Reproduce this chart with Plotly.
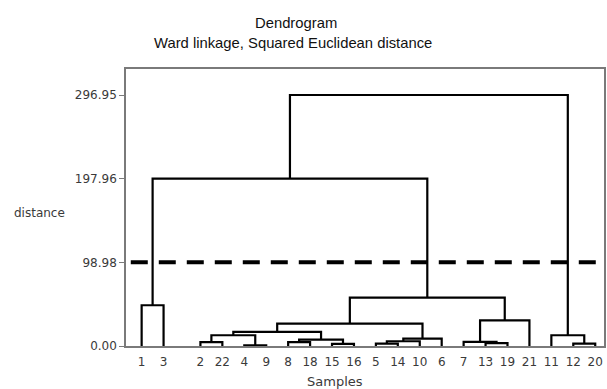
import plotly.graph_objects as go

# Leaf order along the horizontal axis (sample numbers)
sample_order = [1, 3, 2, 22, 4, 9, 8, 18, 15, 16, 5, 14, 10, 6, 7, 13, 19, 21, 11, 12, 20]

# Agglomeration steps (Ward). Children are sample numbers or earlier steps "c<k>".
merge_left = [4, 15, 5, 12, 13, 2, 8, 7, "c3", "c7", "c9", "c6", 11, "c12", "c14",
              "c8", 1, "c15", "c17", "c19"]
merge_right = [9, 16, 14, 20, 19, 22, 18, "c5", 10, "c2", 6, "c1", "c4", "c10", "c11",
               21, 3, "c16", "c18", "c13"]
merge_height = [0.8, 2.5, 2.8, 2.8, 3.5, 4.7, 4.7, 4.9, 5.6, 7.6, 8.8, 12.7, 12.7,
                16.6, 26.5, 30.4, 48.2, 57.3, 198.1, 296.95]

# Distance axis ticks and the cut level
distance_ticks = [0.00, 98.98, 197.96, 296.95]
cut_distance = 98.98

# Layout constants
first_pair_gap = 0.68      # extra spacing after the first two leaves
line_color = "black"
frame_color = "#7a7a7a"
text_color = "#3a3a3a"

# Leaf positions
pos = {}
height = {}
for i, s in enumerate(sample_order):
    pos[s] = i + (first_pair_gap if i >= 2 else 0)
    height[s] = 0.0

# Build the U-shaped links
xs, ys = [], []
for k, (a, b, h) in enumerate(zip(merge_left, merge_right, merge_height), start=1):
    xa, xb = pos[a], pos[b]
    ha, hb = height[a], height[b]
    xs += [xa, xa, xb, xb, None]
    ys += [ha, h, h, hb, None]
    pos[f"c{k}"] = (xa + xb) / 2
    height[f"c{k}"] = h

fig = go.Figure()
fig.add_trace(go.Scatter(
    x=xs, y=ys, mode="lines",
    line=dict(color=line_color, width=2.2),
    hoverinfo="skip", showlegend=False, cliponaxis=False,
))

# Cut line
fig.add_shape(
    type="line", xref="paper", yref="y",
    x0=0.01, x1=1, y0=cut_distance, y1=cut_distance,
    line=dict(color="black", width=4, dash="17px,11px"),
)

x_left = -0.713
x_right = 21.08
y_top = max(distance_ticks) * 277 / 251

fig.update_xaxes(
    range=[x_left, x_right],
    tickmode="array",
    tickvals=[pos[s] for s in sample_order],
    ticktext=[str(s) for s in sample_order],
    ticks="", ticklabelstandoff=4,
    tickfont=dict(family="DejaVu Sans", size=12, color=text_color),
    showgrid=False, zeroline=False,
    showline=True, mirror=True, linecolor=frame_color, linewidth=1.5,
)
fig.update_yaxes(
    range=[0, y_top],
    tickmode="array",
    tickvals=distance_ticks,
    ticktext=[f"{v:.2f}" for v in distance_ticks],
    ticks="outside", ticklen=5, tickcolor=frame_color, tickwidth=1,
    tickfont=dict(family="DejaVu Sans", size=12, color=text_color),
    showgrid=False, zeroline=False,
    showline=True, mirror=True, linecolor=frame_color, linewidth=1.5,
)

annotations = [
    dict(text="Dendrogram", x=0.356, y=1.166, font=dict(size=14.8, color="#111")),
    dict(text="Ward linkage, Squared Euclidean distance", x=0.349, y=1.094,
         font=dict(size=14.8, color="#111")),
    dict(text="distance", x=-0.1815, y=0.48,
         font=dict(family="DejaVu Sans", size=12, color=text_color)),
    dict(text="Samples", x=0.4375, y=-0.127,
         font=dict(family="DejaVu Sans", size=13, color=text_color)),
]
for a in annotations:
    a.update(xref="paper", yref="paper", xanchor="center", yanchor="middle",
             showarrow=False)
    a["font"].setdefault("family", "Liberation Sans, Arial")

fig.update_layout(
    width=607, height=389,
    margin=dict(l=126, r=1, t=69, b=43),
    paper_bgcolor="white", plot_bgcolor="white",
    annotations=annotations,
)

fig.write_html("out.html")
